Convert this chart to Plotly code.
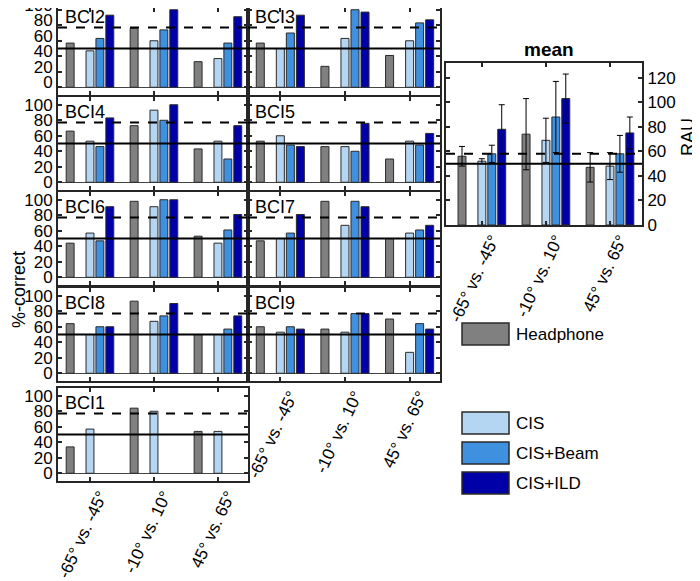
import plotly.graph_objects as go

# ── Data ─────────────────────────────────────────────────────────────────────
groups = ["-65° vs. -45°", "-10° vs. 10°", "45° vs. 65°"]
conditions = ["Headphone", "CIS", "CIS+Beam", "CIS+ILD"]

# per subject: one list per condition, values per group (%-correct)
bci2 = [[57, 76, 33], [47, 60, 37], [63, 74, 57], [93, 100, 91]]
bci3 = [[57, 27, 41], [50, 63, 60], [70, 100, 83], [93, 97, 87]]
bci4 = [[66, 73, 43], [53, 93, 53], [46, 80, 30], [83, 100, 73]]
bci5 = [[53, 46, 30], [60, 46, 53], [48, 40, 48], [46, 76, 63]]
bci6 = [[44, 98, 53], [57, 91, 44], [47, 100, 61], [91, 100, 81]]
bci7 = [[47, 98, 50], [50, 67, 57], [57, 98, 61], [81, 91, 67]]
bci8 = [[64, 93, 50], [50, 67, 50], [60, 74, 57], [60, 90, 74]]
bci9 = [[60, 57, 70], [53, 53, 27], [60, 77, 64], [57, 77, 57]]
bci1 = [[34, 84, 54], [57, 80, 54], None, None]

# group mean (RAU) and error
mean_vals = [[56, 74, 47], [52, 69, 48], [58, 88, 58], [78, 103, 75]]
mean_err = [[8, 29, 12], [2, 18, 11], [7, 29, 15], [20, 20, 13]]

chance = 50
crit_pct = 77
crit_rau = 58

# ── Style ────────────────────────────────────────────────────────────────────
COLORS = ["#808080", "#b5d6f3", "#4090e0", "#0000a8"]
SLOT = 0.155
OFFSETS = [-2 * SLOT, 0, SLOT, 2 * SLOT]
BAR_W = 0.124
FONT = "Arial, Liberation Sans, sans-serif"
FRAME = "#262626"
PAGE = 8  # default body margin of the html page
W, H = 700 - PAGE, 581 - PAGE


def px(x):
    return (x - PAGE) / W


def py(y):
    return 1 - (y - PAGE) / H


LEFT, RIGHT = (58, 248), (248, 440)
ROW_TOPS = [2, 97, 192, 288, 388]
ROW_H = 93
Y_LO, Y_HI = -10, 110

panels = [
    ("BCI2", bci2, LEFT, 0, False), ("BCI3", bci3, RIGHT, 0, False),
    ("BCI4", bci4, LEFT, 1, False), ("BCI5", bci5, RIGHT, 1, False),
    ("BCI6", bci6, LEFT, 2, False), ("BCI7", bci7, RIGHT, 2, False),
    ("BCI8", bci8, LEFT, 3, False), ("BCI9", bci9, RIGHT, 3, True),
    ("BCI1", bci1, LEFT, 4, True),
]

fig = go.Figure()
layout = {}
shapes = []
annotations = []


def axis_style():
    return dict(
        showline=True, linecolor=FRAME, linewidth=2, mirror="ticks",
        ticks="inside", ticklen=4, tickwidth=1.5, tickcolor=FRAME,
        showgrid=False, automargin=False,
        tickfont=dict(size=17, color="black", family=FONT),
    )


def x_style():
    xs = axis_style()
    xs.update(tickvals=[1, 2, 3], ticktext=groups, tickangle=-65,
              ticklabelshift=10, ticklabelstandoff=-4)
    return xs


def add_bars(vals, xa, ya, err=None):
    for c, (name, color) in enumerate(zip(conditions, COLORS)):
        if vals[c] is None:
            continue
        fig.add_trace(go.Bar(
            x=[g + 1 + OFFSETS[c] for g in range(len(groups))],
            y=vals[c], width=BAR_W, name=name, showlegend=False,
            marker=dict(color=color, line=dict(color="#2a2a2a", width=1)),
            error_y=dict(type="data", array=err[c], color="black",
                         thickness=1, width=3) if err else None,
            xaxis=xa, yaxis=ya,
        ))


def ref_lines(xa, ya, crit):
    shapes.append(dict(type="line", xref=f"{xa} domain", yref=ya, x0=0, x1=1,
                       y0=chance, y1=chance, line=dict(color="black", width=2)))
    shapes.append(dict(type="line", xref=f"{xa} domain", yref=ya, x0=0, x1=1,
                       y0=crit, y1=crit,
                       line=dict(color="black", width=2, dash="dash")))


def text(s, x, y, size=17, angle=0, anchor="center"):
    annotations.append(dict(
        text=s, xref="paper", yref="paper", x=px(x), y=py(y),
        xanchor=anchor, yanchor="middle", textangle=angle, showarrow=False,
        font=dict(size=size, color="black", family=FONT)))


for i, (label, vals, col, row, show_x) in enumerate(panels):
    n = "" if i == 0 else str(i + 1)
    xa, ya = f"x{n}", f"y{n}"
    top = ROW_TOPS[row]
    bottom = top + ROW_H
    # the page margin hides the first few pixels: trim the range to match
    vis_top = max(top, PAGE)
    y_hi = Y_HI - (vis_top - top) * (Y_HI - Y_LO) / ROW_H
    add_bars(vals, xa, ya)
    ref_lines(xa, ya, crit_pct)
    xs = x_style()
    xs.update(domain=[px(col[0]), px(col[1])], anchor=ya, range=[0.5, 3.47],
              showticklabels=show_x)
    ys = axis_style()
    ys.update(domain=[py(bottom), py(vis_top)], anchor=xa, range=[Y_LO, y_hi],
              tickvals=[0, 20, 40, 60, 80, 100], showticklabels=col == LEFT,
              zeroline=True, zerolinecolor="#444", zerolinewidth=1)
    if vis_top > top:
        ys.update(ticklabeloverflow="allow", ticklabelshift=-5)
    layout[f"xaxis{n}"] = xs
    layout[f"yaxis{n}"] = ys
    text(label, col[0] + 5, top + 15, size=18, anchor="left")

# mean panel
add_bars(mean_vals, "x10", "y10", err=mean_err)
ref_lines("x10", "y10", crit_rau)
xs = x_style()
xs.update(domain=[px(446), px(642)], anchor="y10", range=[0.44, 3.5])
ys = axis_style()
ys.update(domain=[py(225), py(63)], anchor="x10", range=[0, 132],
          side="right", tickvals=[0, 20, 40, 60, 80, 100, 120])
layout["xaxis10"] = xs
layout["yaxis10"] = ys

text("<b>mean</b>", 549, 50, size=19)
text("RAU", 688, 137, size=18, angle=-90)
text("%-correct", 19, 290, size=18, angle=-90)

# legend drawn by hand: Headphone apart, CI conditions grouped below
legend_y = [334, 423, 453, 483]
for name, color, yc in zip(conditions, COLORS, legend_y):
    shapes.append(dict(type="rect", xref="paper", yref="paper",
                       x0=px(462), x1=px(509), y0=py(yc + 11), y1=py(yc - 11),
                       fillcolor=color, line=dict(color="#2a2a2a", width=1.5)))
    text(name, 514, yc, anchor="left")

fig.update_layout(
    width=W, height=H, margin=dict(l=0, r=0, t=0, b=0),
    plot_bgcolor="white", paper_bgcolor="white",
    font=dict(family=FONT, color="black"),
    shapes=shapes, annotations=annotations, showlegend=False,
    **layout,
)

fig.write_html("out.html")
